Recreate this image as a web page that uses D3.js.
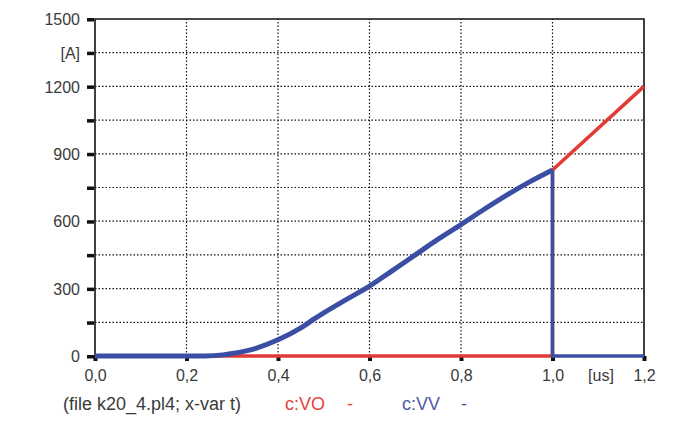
<!DOCTYPE html>
<html>
<head>
<meta charset="utf-8">
<script src="https://cdn.jsdelivr.net/npm/d3@7"></script>
<style>
  body { margin: 0; background: #fff; }
</style>
</head>
<body>
<svg id="chart" width="700" height="425"></svg>
<script>
// time in us, current in A
const vvTime = [0, 0.2, 0.24, 0.28, 0.3, 0.35, 0.4, 0.45, 0.48, 0.5, 0.55, 0.6, 0.65, 0.7, 0.75, 0.8, 0.85, 0.9, 0.95, 1.0, 1.0, 1.2];
const vvValue = [0, 0, 0, 5, 11, 33, 72, 125, 166, 192, 252, 311, 380, 450, 520, 585, 652, 716, 775, 828, 0, 0];
const voTime = [0, 1.0, 1.0, 1.2];
const voValue = [0, 0, 828, 1200];

const xTicks = [0, 0.2, 0.4, 0.6, 0.8, 1.0, 1.2];
const yTicks = [0, 150, 300, 450, 600, 750, 900, 1050, 1200, 1350, 1500];
const yLabels = { 0: "0", 300: "300", 600: "600", 900: "900", 1200: "1200", 1350: "[A]", 1500: "1500" };

const width = 700;
const height = 425;
const margin = { left: 95, right: 56, top: 19, bottom: 69 };
const font = "'Liberation Sans', Arial, sans-serif";
const fontSize = 16;
const textColor = "#3a3a3a";

const svg = d3.select("#chart");

const x = d3.scaleLinear().domain([0, 1.2]).range([margin.left, width - margin.right]);
const y = d3.scaleLinear().domain([0, 1500]).range([height - margin.bottom, margin.top]);

// dotted grid
svg.append("g")
  .selectAll("line")
  .data(xTicks.slice(1, -1))
  .enter()
  .append("line")
  .attr("x1", (d) => x(d)).attr("x2", (d) => x(d))
  .attr("y1", y(0)).attr("y2", y(1500))
  .attr("stroke", "#111").attr("stroke-width", 1.2).attr("stroke-dasharray", "1.5,2");

svg.append("g")
  .selectAll("line")
  .data(yTicks.slice(1, -1))
  .enter()
  .append("line")
  .attr("x1", x(0)).attr("x2", x(1.2))
  .attr("y1", (d) => y(d)).attr("y2", (d) => y(d))
  .attr("stroke", "#111").attr("stroke-width", 1.2).attr("stroke-dasharray", "1.5,2");

// frame
svg.append("path")
  .attr("d", `M${x(0)},${y(0)}V${y(1500)}H${x(1.2)}V${y(0)}H${x(0)}`)
  .attr("fill", "none").attr("stroke", "#111").attr("stroke-width", 1.6);

// y ticks + labels
const yAxis = d3.axisLeft(y).tickValues(yTicks).tickSize(0).tickFormat((d) => yLabels[d] || "");
const gy = svg.append("g").attr("transform", `translate(${x(0) - 1},0)`).call(yAxis)
  .attr("font-size", fontSize).attr("font-family", font);
gy.select(".domain").remove();
gy.selectAll("text").attr("x", -14).attr("dy", "0.35em").attr("fill", textColor);
gy.selectAll(".tick")
  .append("rect")
  .attr("x", -7).attr("y", -1.5).attr("width", 7).attr("height", 3.5).attr("fill", "#111");

// x ticks + labels
const xAxis = d3.axisBottom(x).tickValues(xTicks).tickSize(0).tickFormat((d) => d3.format(".1f")(d).replace(".", ","));
const gx = svg.append("g").attr("transform", `translate(0,${y(0)})`).call(xAxis)
  .attr("font-size", fontSize).attr("font-family", font);
gx.select(".domain").remove();
gx.selectAll("text").attr("y", 16).attr("dy", "0.55em").attr("fill", textColor);
gx.selectAll(".tick")
  .append("rect")
  .attr("x", -2).attr("y", 0).attr("width", 4).attr("height", 5).attr("fill", "#111");

const label = (tx, ty, str, color, size) =>
  svg.append("text")
    .attr("x", tx).attr("y", ty)
    .attr("font-family", font).attr("font-size", size || fontSize)
    .attr("fill", color || textColor)
    .text(str);

label(601, y(0) + 25, "[us]").attr("text-anchor", "middle");

// series
const line = d3.line().x((d) => x(d[0])).y((d) => y(d[1]));
const smooth = d3.line().x((d) => x(d[0])).y((d) => y(d[1])).curve(d3.curveMonotoneX);

svg.append("path")
  .datum(voTime.map((t, i) => [t, voValue[i]]))
  .attr("d", line)
  .attr("fill", "none").attr("stroke", "#e23b36").attr("stroke-width", 3.5);

const vv = vvTime.map((t, i) => [t, vvValue[i]]);
const peak = vvValue.indexOf(d3.max(vvValue));

svg.append("path")
  .datum(vv.slice(0, peak + 1))
  .attr("d", smooth)
  .attr("fill", "none").attr("stroke", "#3a4fa3").attr("stroke-width", 5).attr("stroke-linejoin", "round");

svg.append("path")
  .datum(vv.slice(peak))
  .attr("d", line)
  .attr("fill", "none").attr("stroke", "#3a4fa3").attr("stroke-width", 3.5);

// footer legend
const fy = 410;
const fs = 18;
label(63, fy, "(file k20_4.pl4; x-var t)", null, fs);
label(285, fy, "c:VO", "#e0443c", fs);
label(347, fy, "-", "#e0443c", fs);
label(402, fy, "c:VV", "#4a5aa0", fs);
label(461, fy, "-", "#4a5aa0", fs);
</script>
</body>
</html>
